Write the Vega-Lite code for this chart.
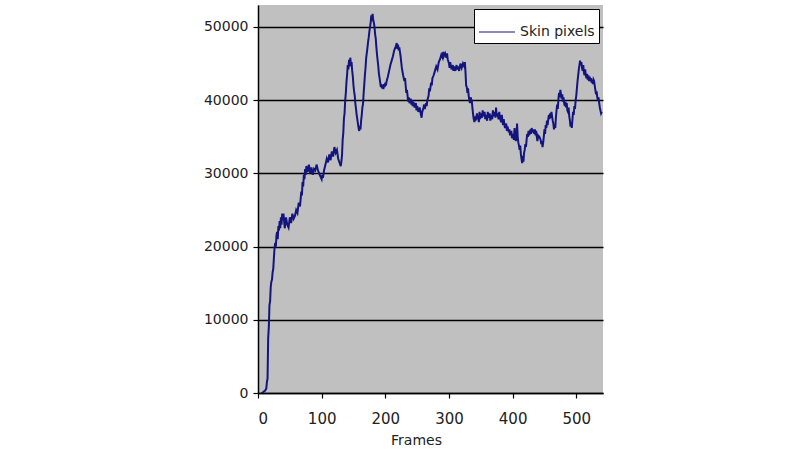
{
  "$schema": "https://vega.github.io/schema/vega-lite/v6.json",
  "autosize": "none",
  "padding": {"left": 258, "top": 5, "right": 197, "bottom": 57},
  "width": 345,
  "height": 388,
  "background": "white",
  "config": {
    "view": {"fill": "#c0c0c0", "stroke": null},
    "font": "DejaVu Sans",
    "axis": {
      "domainColor": "black", "domainWidth": 1.5,
      "tickColor": "black", "tickWidth": 1.2, "tickSize": 5,
      "gridColor": "black", "gridWidth": 1.5, "gridOpacity": 1,
      "labelFont": "DejaVu Sans", "labelFontSize": 14, "labelColor": "#222",
      "titleFont": "DejaVu Sans", "titleFontSize": 14, "titleFontWeight": "normal", "titleColor": "#222"
    }
  },
  "data": {"values": [
    {"frame":5,"skin":0},{"frame":7,"skin":0},{"frame":9,"skin":200},{"frame":11,"skin":300},{"frame":13,"skin":600},{"frame":14,"skin":1500},{"frame":15,"skin":2000},{"frame":16,"skin":7500},{"frame":17,"skin":9000},{"frame":18,"skin":12000},{"frame":19,"skin":12500},{"frame":20,"skin":14500},{"frame":21,"skin":15200},{"frame":22,"skin":15500},{"frame":23,"skin":16500},{"frame":24,"skin":17000},{"frame":25,"skin":18500},{"frame":26,"skin":19800},{"frame":27,"skin":20500},{"frame":28,"skin":20000},{"frame":29,"skin":21500},{"frame":30,"skin":22000},{"frame":31,"skin":21000},{"frame":32,"skin":22800},{"frame":33,"skin":22200},{"frame":34,"skin":23500},{"frame":35,"skin":22500},{"frame":36,"skin":24000},{"frame":37,"skin":23000},{"frame":38,"skin":24500},{"frame":39,"skin":23600},
    {"frame":40,"skin":24500},{"frame":42,"skin":22500},{"frame":44,"skin":24000},{"frame":46,"skin":23000},{"frame":48,"skin":22600},{"frame":50,"skin":24000},{"frame":52,"skin":23200},{"frame":54,"skin":24500},{"frame":56,"skin":23800},{"frame":58,"skin":24200},{"frame":60,"skin":25000},{"frame":62,"skin":24600},{"frame":64,"skin":26000},{"frame":66,"skin":25500},{"frame":68,"skin":27500},{"frame":69,"skin":27000},{"frame":70,"skin":28800},{"frame":71,"skin":28200},{"frame":72,"skin":29800},{"frame":73,"skin":29200},{"frame":74,"skin":30600},{"frame":75,"skin":29800},{"frame":76,"skin":31000},{"frame":78,"skin":30200},{"frame":80,"skin":31200},{"frame":82,"skin":30000},{"frame":84,"skin":30800},{"frame":86,"skin":29800},{"frame":88,"skin":30600},{"frame":90,"skin":30400},{"frame":92,"skin":31200},{"frame":94,"skin":30500},{"frame":96,"skin":30000},{"frame":98,"skin":29600},{"frame":100,"skin":29200},{"frame":101,"skin":29800},{"frame":102,"skin":29400},{"frame":104,"skin":30500},{"frame":106,"skin":31200},{"frame":108,"skin":32000},{"frame":110,"skin":31500},{"frame":112,"skin":32600},{"frame":114,"skin":31800},{"frame":116,"skin":33000},{"frame":118,"skin":32300},{"frame":120,"skin":33600},{"frame":122,"skin":32800},{"frame":124,"skin":33200},{"frame":126,"skin":32000},{"frame":128,"skin":31500},{"frame":130,"skin":31000},{"frame":131,"skin":31600},{"frame":132,"skin":32500},{"frame":133,"skin":34600},{"frame":134,"skin":35500},{"frame":135,"skin":37500},{"frame":136,"skin":38200},{"frame":137,"skin":40000},{"frame":138,"skin":41000},{"frame":139,"skin":42500},{"frame":140,"skin":43500},{"frame":141,"skin":44800},{"frame":142,"skin":44200},{"frame":143,"skin":45500},{"frame":144,"skin":44600},{"frame":145,"skin":45800},{"frame":146,"skin":44800},{"frame":147,"skin":45200},{"frame":148,"skin":44000},{"frame":149,"skin":43200},{"frame":150,"skin":42000},{"frame":151,"skin":41200},{"frame":152,"skin":40600},{"frame":153,"skin":39500},{"frame":154,"skin":38800},{"frame":155,"skin":38000},{"frame":156,"skin":37400},{"frame":157,"skin":36800},{"frame":158,"skin":36200},{"frame":159,"skin":35800},{"frame":160,"skin":36500},{"frame":161,"skin":36000},{"frame":162,"skin":37200},{"frame":163,"skin":38000},{"frame":164,"skin":39000},{"frame":165,"skin":39500},{"frame":166,"skin":41000},{"frame":167,"skin":42200},{"frame":168,"skin":43500},{"frame":169,"skin":44500},{"frame":170,"skin":45800},{"frame":171,"skin":46500},{"frame":172,"skin":47200},{"frame":173,"skin":48000},{"frame":174,"skin":48600},{"frame":175,"skin":49400},{"frame":176,"skin":50000},{"frame":177,"skin":50600},{"frame":178,"skin":51600},{"frame":179,"skin":50800},{"frame":180,"skin":51800},{"frame":181,"skin":51000},{"frame":182,"skin":50600},{"frame":183,"skin":50000},{"frame":184,"skin":49000},{"frame":185,"skin":48400},{"frame":186,"skin":47200},{"frame":187,"skin":46200},{"frame":188,"skin":45400},{"frame":189,"skin":44600},{"frame":190,"skin":43600},{"frame":191,"skin":43000},{"frame":192,"skin":42400},{"frame":193,"skin":41800},{"frame":194,"skin":42200},{"frame":195,"skin":41600},{"frame":196,"skin":42000},{"frame":197,"skin":41500},{"frame":198,"skin":42200},{"frame":199,"skin":41800},{"frame":200,"skin":42400},{"frame":201,"skin":42000},{"frame":202,"skin":42600},{"frame":204,"skin":43200},{"frame":206,"skin":44000},{"frame":208,"skin":44800},{"frame":210,"skin":45400},{"frame":212,"skin":46000},{"frame":214,"skin":46800},{"frame":216,"skin":47200},{"frame":218,"skin":47800},{"frame":219,"skin":47000},{"frame":220,"skin":47600},{"frame":221,"skin":46800},{"frame":222,"skin":47200},{"frame":223,"skin":46600},{"frame":224,"skin":46000},{"frame":225,"skin":45200},{"frame":226,"skin":44400},{"frame":228,"skin":43400},{"frame":230,"skin":42600},{"frame":231,"skin":43000},{"frame":232,"skin":42000},{"frame":233,"skin":41000},{"frame":234,"skin":41400},{"frame":235,"skin":40600},{"frame":236,"skin":39800},{"frame":237,"skin":40400},{"frame":238,"skin":39600},{"frame":240,"skin":40200},{"frame":241,"skin":39400},{"frame":242,"skin":40000},{"frame":243,"skin":39200},{"frame":244,"skin":39800},{"frame":246,"skin":39000},{"frame":248,"skin":39600},{"frame":249,"skin":38600},{"frame":250,"skin":39200},{"frame":252,"skin":38400},{"frame":254,"skin":39000},{"frame":256,"skin":38000},{"frame":257,"skin":37600},{"frame":258,"skin":38400},{"frame":260,"skin":39000},{"frame":261,"skin":39400},{"frame":262,"skin":38800},{"frame":264,"skin":39600},{"frame":265,"skin":39200},{"frame":266,"skin":40000},{"frame":268,"skin":40600},{"frame":269,"skin":41600},{"frame":270,"skin":41200},{"frame":272,"skin":42400},{"frame":273,"skin":42000},{"frame":274,"skin":43000},{"frame":276,"skin":43400},{"frame":278,"skin":44000},{"frame":280,"skin":44600},{"frame":282,"skin":44200},{"frame":284,"skin":45200},{"frame":286,"skin":45600},{"frame":288,"skin":46200},{"frame":290,"skin":45800},{"frame":291,"skin":46600},{"frame":292,"skin":46000},{"frame":294,"skin":46400},{"frame":296,"skin":45800},{"frame":297,"skin":46400},{"frame":298,"skin":45600},{"frame":300,"skin":45000},{"frame":301,"skin":44400},{"frame":302,"skin":45200},{"frame":304,"skin":44200},{"frame":306,"skin":44800},{"frame":307,"skin":44000},{"frame":308,"skin":44600},{"frame":310,"skin":44000},{"frame":312,"skin":44800},{"frame":313,"skin":44200},{"frame":314,"skin":44600},{"frame":316,"skin":44000},{"frame":318,"skin":45000},{"frame":320,"skin":44400},{"frame":322,"skin":45000},{"frame":324,"skin":44600},{"frame":325,"skin":45200},{"frame":326,"skin":43800},{"frame":327,"skin":42000},{"frame":328,"skin":41800},{"frame":329,"skin":41000},{"frame":330,"skin":41600},{"frame":331,"skin":40600},{"frame":332,"skin":40000},{"frame":333,"skin":39600},{"frame":334,"skin":40400},{"frame":336,"skin":39800},{"frame":337,"skin":38800},{"frame":338,"skin":38000},{"frame":339,"skin":37400},{"frame":340,"skin":37000},{"frame":341,"skin":37800},{"frame":342,"skin":37200},{"frame":344,"skin":38200},{"frame":345,"skin":37400},{"frame":346,"skin":37800},{"frame":347,"skin":37000},{"frame":348,"skin":38400},{"frame":349,"skin":37400},{"frame":350,"skin":38200},{"frame":352,"skin":37600},{"frame":353,"skin":38600},{"frame":354,"skin":37800},{"frame":356,"skin":38400},{"frame":357,"skin":37400},{"frame":358,"skin":38000},{"frame":360,"skin":37200},{"frame":361,"skin":38400},{"frame":362,"skin":37600},{"frame":364,"skin":38200},{"frame":365,"skin":37200},{"frame":366,"skin":38000},{"frame":368,"skin":37400},{"frame":369,"skin":38600},{"frame":370,"skin":37800},{"frame":372,"skin":38400},{"frame":373,"skin":37600},{"frame":374,"skin":39000},{"frame":375,"skin":37800},{"frame":376,"skin":38200},{"frame":378,"skin":37400},{"frame":379,"skin":38400},{"frame":380,"skin":37600},{"frame":382,"skin":37000},{"frame":383,"skin":38000},{"frame":384,"skin":37200},{"frame":385,"skin":36600},{"frame":386,"skin":37400},{"frame":387,"skin":36800},{"frame":388,"skin":36200},{"frame":390,"skin":36800},{"frame":391,"skin":35800},{"frame":392,"skin":36400},{"frame":394,"skin":35600},{"frame":395,"skin":36000},{"frame":396,"skin":35200},{"frame":398,"skin":35800},{"frame":399,"skin":34800},{"frame":400,"skin":35400},{"frame":402,"skin":34600},{"frame":403,"skin":36200},{"frame":404,"skin":35000},{"frame":405,"skin":34400},{"frame":406,"skin":35000},{"frame":407,"skin":36800},{"frame":408,"skin":35000},{"frame":409,"skin":34200},{"frame":410,"skin":33800},{"frame":411,"skin":33200},{"frame":412,"skin":33800},{"frame":413,"skin":32600},{"frame":414,"skin":32000},{"frame":415,"skin":31400},{"frame":416,"skin":32400},{"frame":417,"skin":31600},{"frame":418,"skin":32800},{"frame":419,"skin":33200},{"frame":420,"skin":34000},{"frame":421,"skin":33600},{"frame":422,"skin":34600},{"frame":423,"skin":35400},{"frame":424,"skin":35000},{"frame":425,"skin":35800},{"frame":426,"skin":35200},{"frame":428,"skin":36000},{"frame":429,"skin":35400},{"frame":430,"skin":36200},{"frame":431,"skin":35600},{"frame":432,"skin":36000},{"frame":434,"skin":35400},{"frame":435,"skin":36000},{"frame":436,"skin":35200},{"frame":437,"skin":35800},{"frame":438,"skin":35000},{"frame":439,"skin":34400},{"frame":440,"skin":35200},{"frame":442,"skin":35000},{"frame":444,"skin":34600},{"frame":445,"skin":34000},{"frame":446,"skin":34400},{"frame":447,"skin":33600},{"frame":448,"skin":34200},{"frame":449,"skin":35000},{"frame":450,"skin":36000},{"frame":451,"skin":35400},{"frame":452,"skin":36600},{"frame":453,"skin":36200},{"frame":454,"skin":37200},{"frame":455,"skin":36600},{"frame":456,"skin":37400},{"frame":457,"skin":38000},{"frame":458,"skin":37400},{"frame":459,"skin":38200},{"frame":460,"skin":37600},{"frame":461,"skin":38400},{"frame":462,"skin":37800},{"frame":463,"skin":37200},{"frame":464,"skin":36800},{"frame":465,"skin":36000},{"frame":466,"skin":36600},{"frame":467,"skin":36200},{"frame":468,"skin":37600},{"frame":469,"skin":38600},{"frame":470,"skin":39400},{"frame":471,"skin":38800},{"frame":472,"skin":40200},{"frame":473,"skin":41000},{"frame":474,"skin":40400},{"frame":475,"skin":41400},{"frame":476,"skin":40800},{"frame":477,"skin":40200},{"frame":478,"skin":40800},{"frame":479,"skin":39800},{"frame":480,"skin":40400},{"frame":481,"skin":39600},{"frame":482,"skin":39200},{"frame":483,"skin":39800},{"frame":484,"skin":39000},{"frame":485,"skin":39600},{"frame":486,"skin":38600},{"frame":487,"skin":38400},{"frame":488,"skin":39000},{"frame":489,"skin":37800},{"frame":490,"skin":37200},{"frame":491,"skin":36400},{"frame":492,"skin":37000},{"frame":493,"skin":36200},{"frame":494,"skin":37400},{"frame":495,"skin":38400},{"frame":496,"skin":38000},{"frame":497,"skin":39200},{"frame":498,"skin":38800},{"frame":499,"skin":40000},{"frame":500,"skin":40600},{"frame":501,"skin":41600},{"frame":502,"skin":42600},{"frame":503,"skin":43400},{"frame":504,"skin":44200},{"frame":505,"skin":44800},{"frame":506,"skin":45400},{"frame":507,"skin":44800},{"frame":508,"skin":45200},{"frame":509,"skin":44400},{"frame":510,"skin":44000},{"frame":511,"skin":44800},{"frame":512,"skin":43800},{"frame":513,"skin":43400},{"frame":514,"skin":44200},{"frame":515,"skin":43400},{"frame":516,"skin":43000},{"frame":517,"skin":43600},{"frame":518,"skin":42800},{"frame":519,"skin":43400},{"frame":520,"skin":42600},{"frame":521,"skin":43200},{"frame":522,"skin":42600},{"frame":523,"skin":43000},{"frame":524,"skin":42400},{"frame":525,"skin":42800},{"frame":526,"skin":42200},{"frame":527,"skin":42800},{"frame":528,"skin":42600},{"frame":529,"skin":42000},{"frame":530,"skin":41400},{"frame":531,"skin":40800},{"frame":532,"skin":41200},{"frame":533,"skin":40400},{"frame":534,"skin":40000},{"frame":535,"skin":40400},{"frame":536,"skin":39600},{"frame":537,"skin":39000},{"frame":538,"skin":38600},{"frame":539,"skin":38200},{"frame":540,"skin":38400}
  ]},
  "mark": {"type": "line", "strokeWidth": 2, "clip": true},
  "encoding": {
    "x": {
      "field": "frame", "type": "quantitative",
      "scale": {"domain": [0, 542], "nice": false},
      "axis": {"values": [0, 100, 200, 300, 400, 500], "grid": false, "title": "Frames", "labelFontSize": 15, "labelPadding": 13, "titleX": 158, "titleY": 47, "titleBaseline": "middle", "titleAnchor": "start", "titleAlign": "center"}
    },
    "y": {
      "field": "skin", "type": "quantitative",
      "scale": {"domain": [0, 53000], "nice": false},
      "axis": {"values": [0, 10000, 20000, 30000, 40000, 50000], "grid": true, "title": null, "labelPadding": 5, "format": "d"}
    },
    "color": {
      "datum": "Skin pixels", "type": "nominal",
      "scale": {"range": ["#14147e"]},
      "legend": {
        "title": null, "orient": "top-right", "offset": 4,
        "fillColor": "white", "strokeColor": "black", "padding": 4,
        "symbolType": "stroke", "symbolSize": 1296, "symbolStrokeWidth": 1.2,
        "labelFont": "DejaVu Sans", "labelFontSize": 14, "labelColor": "#222", "labelOffset": 4,
        "encode": {"symbols": {"update": {"stroke": {"value": "#111111"}}}}
      }
    }
  }
}
